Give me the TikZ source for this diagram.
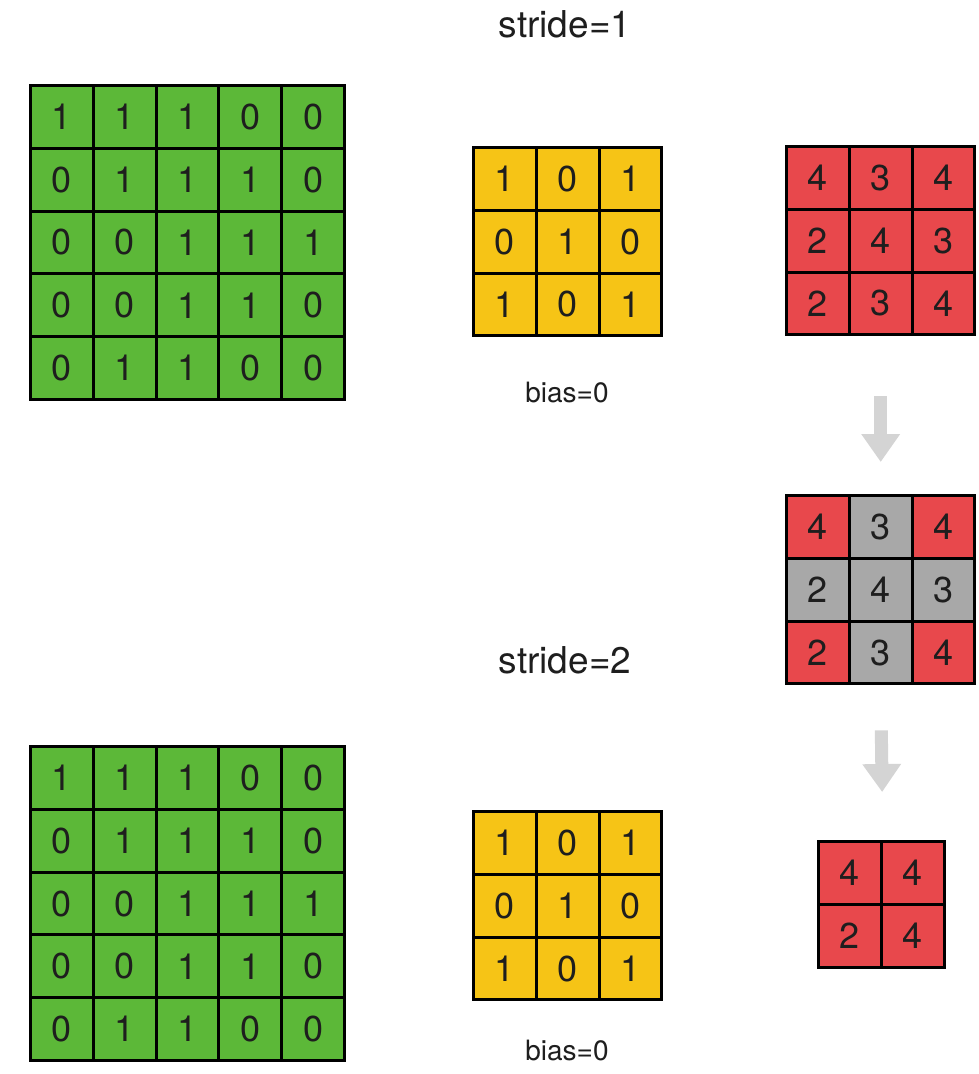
\documentclass[tikz,border=0pt]{standalone}
\usepackage{fontspec}
\setmainfont{TeX Gyre Heros}
\usetikzlibrary{arrows.meta}
\definecolor{gfill}{RGB}{92,184,56}
\definecolor{yfill}{RGB}{246,196,22}
\definecolor{rfill}{RGB}{232,72,76}
\definecolor{kfill}{RGB}{168,168,168}
\definecolor{arrowgray}{RGB}{212,212,212}
\definecolor{txt}{RGB}{30,30,30}
\newcommand\uniformgrid[5]{%
  \foreach \row [count=\r] in {#5} {%
    \foreach \v [count=\c] in \row {%
      \node[cellbase,#4] (#1-\r-\c) at ({#2+(\c-0.5)*62.8},{#3+(\r-0.5)*62.8}) {\v};
    }%
  }%
}
\begin{document}
\begin{tikzpicture}[x=1pt,y=-1pt,
  cellbase/.style={draw=black,line width=3pt,minimum size=62.8pt,inner sep=0pt,
    text=txt,font=\fontsize{36}{36}\selectfont},
  greencell/.style={fill=gfill},
  yellowcell/.style={fill=yfill},
  redcell/.style={fill=rfill},
  graycell/.style={fill=kfill},
  titletext/.style={text=txt,font=\fontsize{37}{37}\selectfont,inner sep=0pt},
  biastext/.style={text=txt,font=\fontsize{28}{28}\selectfont,inner sep=0pt},
  bigarrow/.style={draw=arrowgray,line width=13pt,-{Triangle[width=37pt,length=28pt]}}
]
\useasboundingbox (0,0) rectangle (978,1074);
\fill[white] (0,0) rectangle (978,1074);

% titles
\node[titletext] (t1) at (565,24) {stride=1};
\node[titletext] (t2) at (565,660) {stride=2};
\node[biastext] (b1) at (567,392) {bias=0};
\node[biastext] (b2) at (567,1050) {bias=0};

% top row
\uniformgrid{GA}{30.5}{85.5}{greencell}{{1,1,1,0,0},{0,1,1,1,0},{0,0,1,1,1},{0,0,1,1,0},{0,1,1,0,0}}
\uniformgrid{YA}{473.5}{147.5}{yellowcell}{{1,0,1},{0,1,0},{1,0,1}}
\uniformgrid{RA}{786.5}{146.5}{redcell}{{4,3,4},{2,4,3},{2,3,4}}

% middle grid
\foreach \row [count=\r] in {{redcell/4,graycell/3,redcell/4},{graycell/2,graycell/4,graycell/3},{redcell/2,graycell/3,redcell/4}} {
  \foreach \k/\v [count=\c] in \row {
    \node[cellbase,\k] (M-\r-\c) at ({786.5+(\c-0.5)*62.8},{495.5+(\r-0.5)*62.8}) {\v};
  }
}

% bottom row
\uniformgrid{GB}{30.5}{746.5}{greencell}{{1,1,1,0,0},{0,1,1,1,0},{0,0,1,1,1},{0,0,1,1,0},{0,1,1,0,0}}
\uniformgrid{YB}{473.5}{811.5}{yellowcell}{{1,0,1},{0,1,0},{1,0,1}}
\uniformgrid{RB}{818.5}{841.5}{redcell}{{4,4},{2,4}}

% arrows
\draw[bigarrow,shorten <=60pt,shorten >=32pt] (RA-3-2.south) -- (M-1-2.north);
\draw[bigarrow,shorten <=45pt,shorten >=48pt] (M-3-2.south) -- (RB-1-1.north east);
\end{tikzpicture}
\end{document}
